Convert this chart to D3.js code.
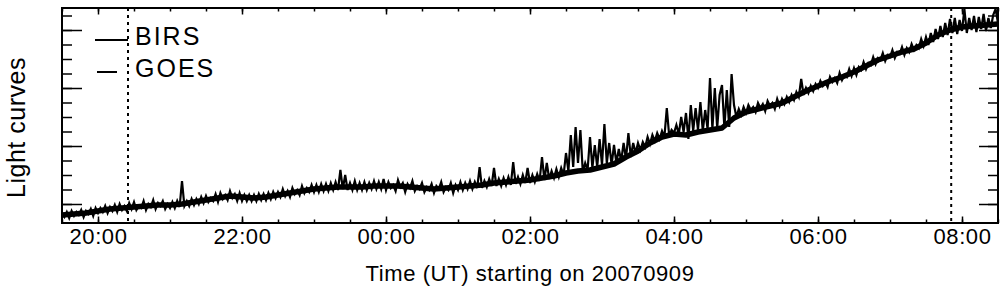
<!DOCTYPE html>
<meta charset="utf-8">
<style>

body {
  margin: 0;
  background: #fff;
}

svg {
  display: block;
  font-family: "Liberation Sans", Arial, sans-serif;
}

.axis line {
  stroke: #000;
  stroke-width: 1.5;
}

.axis text {
  font-size: 22px;
  letter-spacing: 0.6px;
  fill: #000;
}

</style>
<svg width="1004" height="296"></svg>
<script src="https://d3js.org/d3.v7.min.js"></script>
<script>

// time grid starts 2007-09-09 19:30 UT, samples in minutes
var startTime = Date.UTC(2007, 8, 9, 19, 30),
    endTime = Date.UTC(2007, 8, 10, 8, 30),
    birsStep = 2,
    goesStep = 10;

// BIRS light curve (arbitrary units), one value every 2 minutes, one row per half hour
var birs = [
  10, 6, 11, 5, 12, 7, 11, 8, 13, 6, 12, 9, 14, 7, 15,
  10, 15, 11, 17, 10, 16, 12, 18, 11, 19, 13, 17, 12, 20, 14,
  21, 13, 17, 15, 22, 13, 19, 16, 23, 14, 20, 17, 22, 14, 19,
  15, 21, 15, 22, 16, 42, 17, 22, 17, 24, 18, 24, 19, 26, 20,
  27, 21, 25, 22, 29, 21, 30, 24, 28, 23, 32, 25, 29, 22, 30,
  22, 28, 22, 28, 22, 28, 22, 29, 23, 29, 23, 30, 24, 31, 25,
  31, 26, 34, 27, 32, 26, 35, 29, 33, 28, 37, 30, 35, 31, 38,
  31, 38, 31, 39, 32, 39, 32, 40, 33, 41, 33, 53, 34, 48, 33,
  40, 33, 42, 33, 40, 33, 41, 33, 40, 34, 42, 34, 41, 34, 44,
  33, 41, 35, 38, 32, 43, 36, 40, 31, 39, 35, 42, 32, 37, 34,
  40, 31, 36, 33, 39, 30, 37, 34, 41, 31, 36, 33, 40, 30, 38,
  33, 41, 33, 40, 34, 42, 34, 41, 35, 56, 35, 42, 36, 44, 37,
  55, 37, 44, 37, 45, 38, 46, 38, 61, 39, 46, 39, 48, 40, 55,
  40, 48, 41, 49, 42, 66, 43, 60, 44, 52, 45, 54, 46, 55, 48,
  70, 52, 88, 56, 96, 60, 93, 51, 60, 53, 86, 55, 78, 56, 84,
  58, 99, 60, 80, 58, 78, 60, 74, 62, 80, 64, 90, 66, 80, 70,
  80, 73, 81, 76, 86, 79, 88, 82, 90, 84, 92, 86, 115, 87, 93,
  90, 98, 89, 106, 91, 110, 84, 118, 92, 115, 93, 121, 92, 113, 94,
  145, 94, 135, 95, 128, 138, 95, 133, 96, 149, 118, 106, 114, 108, 116,
  110, 118, 113, 116, 111, 120, 115, 119, 112, 122, 117, 120, 114, 124, 117,
  124, 119, 126, 121, 128, 123, 131, 126, 144, 128, 135, 130, 137, 132, 139,
  135, 142, 137, 141, 136, 146, 141, 145, 140, 150, 143, 148, 146, 154, 147,
  155, 148, 156, 153, 161, 154, 160, 158, 166, 159, 165, 163, 170, 162, 168,
  166, 173, 165, 171, 169, 176, 168, 175, 171, 179, 173, 178, 175, 184, 177,
  186, 178, 190, 181, 194, 184, 197, 186, 200, 188, 204, 190, 205, 189, 203,
  192, 214, 190, 205, 193, 207, 191, 206, 194, 209, 192, 205, 195, 208, 214,
  200
];

// GOES light curve (arbitrary units), one value every 10 minutes
var goes = [
  8, 9, 10, 12, 14, 15, 16, 17, 18, 18,
  19, 21, 23, 25, 27, 26, 25, 26, 28, 30,
  32, 34, 35, 36, 36, 36, 37, 37, 37, 36,
  35, 34, 35, 36, 37, 38, 40, 41, 42, 43,
  45, 47, 50, 52, 53, 56, 59, 66, 72, 80,
  86, 89, 88, 91, 93, 95, 105, 111, 114, 117,
  120, 126, 132, 137, 142, 146, 151, 157, 163, 167,
  171, 174, 180, 188, 193, 196, 197, 198, 199
];

var xLabels = ["20:00", "22:00", "00:00", "02:00", "04:00", "06:00", "08:00"];
var markers = ["20:25", "07:51"];
var yTicks = [19, 33.5, 48, 62.5, 77, 91.5, 106, 120.5, 135, 149.5, 164, 178.5, 193, 207.5];
var yMajor = [19, 77, 135, 193];

var svg = d3.select("svg"),
    margin = {top: 8, right: 6, bottom: 73, left: 62},
    width = +svg.attr("width") - margin.left - margin.right,
    height = +svg.attr("height") - margin.top - margin.bottom;

// "HH:MM" -> time on the 09/10 night
function hhmm(s) {
  var h = +s.slice(0, 2), m = +s.slice(3);
  return new Date(Date.UTC(2007, 8, h < 12 ? 10 : 9, h, m));
}

var x = d3.scaleUtc()
    .domain([new Date(startTime), new Date(endTime)])
    .range([0, width]);

var y = d3.scaleLinear()
    .domain([0, 215])
    .range([height, 0]);

var g = svg.append("g")
    .attr("transform", "translate(" + margin.left + "," + margin.top + ")");

g.append("clipPath")
    .attr("id", "clip")
  .append("rect")
    .attr("width", width)
    .attr("height", height);

function series(values, step) {
  return values.map(function(v, i) {
    return {t: new Date(startTime + i * step * 60000), v: v};
  });
}

var line = d3.line()
    .x(function(d) { return x(d.t); })
    .y(function(d) { return y(d.v); });

var curves = g.append("g").attr("clip-path", "url(#clip)");

// GOES: smooth, drawn heavier so it forms the core of the band
curves.append("path")
    .datum(series(goes, goesStep))
    .attr("fill", "none")
    .attr("stroke", "#000")
    .attr("stroke-width", 5.5)
    .attr("stroke-linejoin", "round")
    .attr("d", line);

// BIRS: noisy, with the bursts
curves.append("path")
    .datum(series(birs, birsStep))
    .attr("fill", "none")
    .attr("stroke", "#000")
    .attr("stroke-width", 2.2)
    .attr("d", line);

// dotted time markers
g.selectAll(".marker")
  .data(markers)
  .enter().append("line")
    .attr("class", "marker")
    .attr("x1", function(d) { return x(hhmm(d)); })
    .attr("x2", function(d) { return x(hhmm(d)); })
    .attr("y1", 0)
    .attr("y2", height)
    .attr("stroke", "#000")
    .attr("stroke-width", 2)
    .attr("stroke-dasharray", "3 4");

// axes: minor and major ticks on all four sides, all pointing inwards
var minorTimes = x.ticks(d3.utcMinute.every(30)),
    majorTimes = xLabels.map(hhmm);

g.append("g").attr("class", "axis")
    .attr("transform", "translate(0," + height + ")")
    .call(d3.axisBottom(x).tickValues(minorTimes).tickSize(-3.5).tickFormat(""));

g.append("g").attr("class", "axis")
    .attr("transform", "translate(0," + height + ")")
    .call(d3.axisBottom(x).tickValues(majorTimes).tickSize(-6.5).tickPadding(5)
      .tickFormat(function(d, i) { return xLabels[i]; }));

g.append("g").attr("class", "axis")
    .call(d3.axisTop(x).tickValues(minorTimes).tickSize(-3.5).tickFormat(""));

g.append("g").attr("class", "axis")
    .call(d3.axisTop(x).tickValues(majorTimes).tickSize(-6.5).tickFormat(""));

g.append("g").attr("class", "axis")
    .call(d3.axisLeft(y).tickValues(yTicks).tickSize(-10).tickFormat(""));

g.append("g").attr("class", "axis")
    .call(d3.axisLeft(y).tickValues(yMajor).tickSize(-20).tickFormat(""));

g.append("g").attr("class", "axis")
    .attr("transform", "translate(" + width + ",0)")
    .call(d3.axisRight(y).tickValues(yTicks).tickSize(-10).tickFormat(""));

g.append("g").attr("class", "axis")
    .attr("transform", "translate(" + width + ",0)")
    .call(d3.axisRight(y).tickValues(yMajor).tickSize(-19).tickFormat(""));

g.selectAll(".axis .domain").remove();

// frame
g.append("rect")
    .attr("width", width)
    .attr("height", height)
    .attr("fill", "none")
    .attr("stroke", "#000")
    .attr("stroke-width", 2);

// legend
var legend = g.selectAll(".legend")
  .data([{name: "BIRS", x1: 0, x2: 33}, {name: "GOES", x1: 2, x2: 22}])
  .enter().append("g")
    .attr("class", "legend")
    .attr("transform", function(d, i) { return "translate(33," + (32 + i * 32) + ")"; });

legend.append("line")
    .attr("x1", function(d) { return d.x1; })
    .attr("x2", function(d) { return d.x2; })
    .attr("stroke", "#000")
    .attr("stroke-width", 2);

legend.append("text")
    .attr("x", 40)
    .attr("y", 5)
    .style("font-size", "25px")
    .style("letter-spacing", "2px")
    .text(function(d) { return d.name; });

// axis titles
svg.append("text")
    .attr("x", margin.left + width / 2)
    .attr("y", 281)
    .attr("text-anchor", "middle")
    .style("font-size", "22px")
    .style("letter-spacing", "0.6px")
    .text("Time (UT) starting on 20070909");

svg.append("text")
    .attr("transform", "translate(25," + (margin.top + height / 2 + 12) + ") rotate(-90)")
    .attr("text-anchor", "middle")
    .style("font-size", "25px")
    .style("letter-spacing", "0.5px")
    .text("Light curves");

</script>
